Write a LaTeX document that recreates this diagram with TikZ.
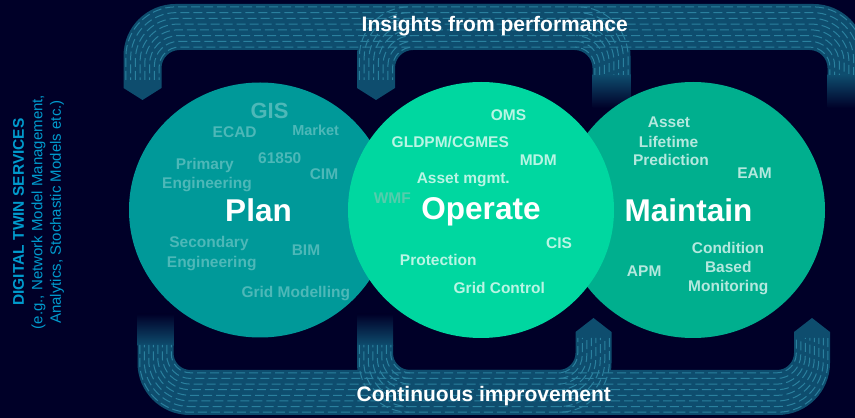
\documentclass[tikz,border=0pt]{standalone}
\usepackage{fontspec}
\setmainfont{Liberation Sans}
\definecolor{bg}{RGB}{0,0,40}
\definecolor{bandc}{RGB}{14,77,110}
\definecolor{dashc}{RGB}{42,128,158}
\definecolor{plan}{RGB}{0,153,153}
\definecolor{operate}{RGB}{0,215,160}
\definecolor{maintain}{RGB}{0,175,142}
\definecolor{plantxt}{RGB}{77,184,184}
\definecolor{optxt}{RGB}{185,245,228}
\definecolor{wmftxt}{RGB}{85,205,172}
\definecolor{mttxt}{RGB}{180,232,222}
\definecolor{lefttxt}{RGB}{0,155,205}
\tikzset{
  dashline/.style={draw=dashc, line width=1pt, dash pattern=on 9pt off 4pt},
  lbl/.style={inner sep=0pt, anchor=base, font=\bfseries\fontsize{15.5}{18}\selectfont},
  plbl/.style={lbl, text=plantxt},
  olbl/.style={lbl, text=optxt},
  mlbl/.style={lbl, text=mttxt},
  bigl/.style={inner sep=0pt, anchor=base, text=white, font=\bfseries\fontsize{31.5}{36}\selectfont},
  bandl/.style={inner sep=0pt, anchor=base, text=white, font=\bfseries\fontsize{21}{25}\selectfont},
}
\begin{document}
\begin{tikzpicture}[x=1pt,y=1pt]
\useasboundingbox (0,0) rectangle (855,418);
\fill[bg] (0,0) rectangle (855,418);
% ---------- top arrows (fills) ----------
% arrow 1: source 846.5 -> target 142.5
\fill[bandc] (142.5-19,330) -- (142.5-19,362) arc[start angle=180,end angle=90,radius=52pt]
  -- (846.5+19-52,414) arc[start angle=90,end angle=0,radius=52pt] -- (846.5+19,343)
  -- (846.5-19,343) -- (846.5-19,350) arc[start angle=0,end angle=90,radius=18pt]
  -- (142.5+19+18,368) arc[start angle=90,end angle=180,radius=18pt] -- (142.5+19,330) -- (142.5,318) -- cycle;
% arrow 2: source 611.5 -> target 376
\fill[bandc] (376-19,330) -- (376-19,362) arc[start angle=180,end angle=90,radius=52pt]
  -- (611.5+19-52,414) arc[start angle=90,end angle=0,radius=52pt] -- (611.5+19,343)
  -- (611.5-19,343) -- (611.5-19,350) arc[start angle=0,end angle=90,radius=18pt]
  -- (376+19+18,368) arc[start angle=90,end angle=180,radius=18pt] -- (376+19,330) -- (376,318) -- cycle;
\shade[top color=bandc,bottom color=bg] (846.5-19,310) rectangle (846.5+19,343.5);
\shade[top color=bandc,bottom color=bg] (611.5-19,310) rectangle (611.5+19,343.5);
% ---------- bottom arrows (fills) ----------
% arrow 3: source 155.5 -> target 593.5
\fill[bandc] (155.5-18,73) -- (155.5-18,55) arc[start angle=180,end angle=270,radius=52pt]
  -- (593.5+18-52,3) arc[start angle=270,end angle=360,radius=52pt] -- (593.5+18,86) -- (593.5,100) -- (593.5-18,86)
  -- (593.5-18,65) arc[start angle=0,end angle=-90,radius=17pt]
  -- (155.5+18+17,48) arc[start angle=270,end angle=180,radius=17pt] -- (155.5+18,73) -- cycle;
% arrow 4: source 375 -> target 812
\fill[bandc] (375-18,73) -- (375-18,55) arc[start angle=180,end angle=270,radius=52pt]
  -- (812+18-52,3) arc[start angle=270,end angle=360,radius=52pt] -- (812+18,86) -- (812,100) -- (812-18,86)
  -- (812-18,65) arc[start angle=0,end angle=-90,radius=17pt]
  -- (375+18+17,48) arc[start angle=270,end angle=180,radius=17pt] -- (375+18,73) -- cycle;
\shade[top color=bg,bottom color=bandc] (155.5-18,72.5) rectangle (155.5+18,104);
\shade[top color=bg,bottom color=bandc] (375-18,72.5) rectangle (375+18,104);
% ---------- dashed texture ----------
\foreach \k in {0,...,7}{
  \pgfmathsetmacro\qf{(\k+0.5)/8}
  \pgfmathsetmacro\qph{mod(\k,2)*6.5}
  % top rows
  \pgfmathsetmacro\qyb{414-46*\qf}
  \pgfmathsetmacro\qr{52-34*\qf}
  \pgfmathsetmacro\qxa{142.5-19+38*\qf}
  \pgfmathsetmacro\qxb{846.5+19-38*\qf}
  \draw[dashline, dash phase=\qph pt] (\qxa,338) -- (\qxa,\qyb-\qr) arc[start angle=180,end angle=90,radius=\qr pt]
     -- (\qxb-\qr,\qyb) arc[start angle=90,end angle=0,radius=\qr pt] -- (\qxb,343);
  \pgfmathsetmacro\qxc{376-19+38*\qf}
  \pgfmathsetmacro\qxd{611.5+19-38*\qf}
  \draw[dashline, dash phase=\qph pt] (\qxc,338) -- (\qxc,\qyb-\qr) arc[start angle=180,end angle=90,radius=\qr pt];
  \draw[dashline, dash phase=\qph pt] (\qxd-\qr,\qyb) arc[start angle=90,end angle=0,radius=\qr pt] -- (\qxd,343);
  % bottom rows
  \pgfmathsetmacro\qyc{3+45*\qf}
  \pgfmathsetmacro\qs{52-35*\qf}
  \pgfmathsetmacro\qxe{155.5-18+36*\qf}
  \pgfmathsetmacro\qxf{593.5+18-36*\qf}
  \draw[dashline, dash phase=\qph pt] (\qxe,73) -- (\qxe,\qyc+\qs) arc[start angle=180,end angle=270,radius=\qs pt]
     -- (\qxf-\qs,\qyc) arc[start angle=270,end angle=360,radius=\qs pt] -- (\qxf,80);
  \pgfmathsetmacro\qxg{375-18+36*\qf}
  \pgfmathsetmacro\qxh{812+18-36*\qf}
  \draw[dashline, dash phase=\qph pt] (\qxg,73) -- (\qxg,\qyc+\qs) arc[start angle=180,end angle=270,radius=\qs pt];
  \draw[dashline, dash phase=\qph pt] (\qxf-\qs,\qyc) -- (\qxh-\qs,\qyc) arc[start angle=270,end angle=360,radius=\qs pt] -- (\qxh,80);
}
% ---------- circles ----------
\fill[plan] (260,208) ellipse [x radius=131pt, y radius=127.5pt];
\fill[maintain] (693,208) ellipse [x radius=132pt, y radius=128pt];
\fill[operate] (481,208) ellipse [x radius=133pt, y radius=128pt];
% ---------- band texts ----------
\node[bandl] (ins) at (494.7,386.5) {Insights from performance};
\node[bandl] (cont) at (483.8,16.3) {Continuous improvement};
% ---------- left text ----------
\node[rotate=90, align=center, text=lefttxt, inner sep=0pt, font=\fontsize{15}{18.5}\selectfont] (dts) at (38.5,206)
  {{\bfseries\fontsize{15.5}{18.5}\selectfont DIGITAL TWIN SERVICES}\\(e.g., Network Model Management,\\Analytics, Stochastic Models etc.)};
% ---------- Plan ----------
\node[plbl, font=\bfseries\fontsize{22}{24}\selectfont] (gis) at (269.5,299) {GIS};
\node[plbl] (ecad) at (234.7,280) {ECAD};
\node[plbl, font=\bfseries\fontsize{14.5}{17}\selectfont] (market) at (315.7,282) {Market};
\node[plbl] (n61850) at (279.7,254) {61850};
\node[plbl] (prim1) at (204.8,248) {Primary};
\node[plbl] (prim2) at (207,229.7) {Engineering};
\node[plbl] (cim) at (324,238) {CIM};
\node[plbl] (sec1) at (209,170.5) {Secondary};
\node[plbl] (sec2) at (211.7,150.7) {Engineering};
\node[plbl] (bim) at (306,162.3) {BIM};
\node[plbl] (gridm) at (295.8,120.7) {Grid Modelling};
\node[bigl] (plan) at (258.5,196.3) {Plan};
% ---------- Operate ----------
\node[olbl] (oms) at (508.5,297.3) {OMS};
\node[olbl] (gldpm) at (450.3,270.7) {GLDPM/CGMES};
\node[olbl] (mdm) at (538.3,252.3) {MDM};
\node[olbl] (assetm) at (463.3,234.7) {Asset mgmt.};
\node[lbl, text=wmftxt] (wmf) at (392.3,214.7) {WMF};
\node[olbl] (cis) at (559,169.7) {CIS};
\node[olbl] (prot) at (438.3,152) {Protection};
\node[olbl] (gridc) at (499.3,124) {Grid Control};
\node[bigl] (operate) at (481,198.5) {Operate};
% ---------- Maintain ----------
\node[mlbl] (alp1) at (669,290.3) {Asset};
\node[mlbl] (alp2) at (668.5,270.7) {Lifetime};
\node[mlbl] (alp3) at (671,252) {Prediction};
\node[mlbl] (eam) at (754.5,239) {EAM};
\node[mlbl] (cbm1) at (728,164.7) {Condition};
\node[mlbl] (cbm2) at (728.3,145.3) {Based};
\node[mlbl] (cbm3) at (728.2,126.3) {Monitoring};
\node[mlbl] (apm) at (644.2,141.3) {APM};
\node[bigl] (maintain) at (688.5,196.3) {Maintain};
\end{tikzpicture}
\end{document}
